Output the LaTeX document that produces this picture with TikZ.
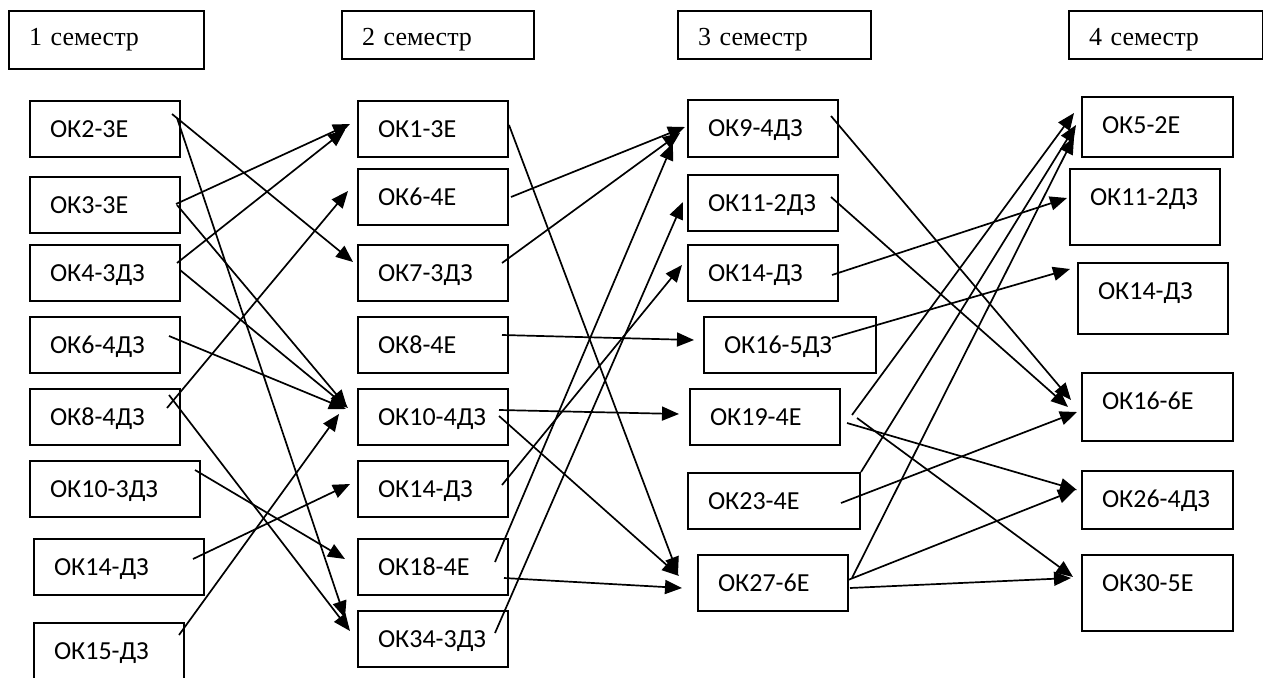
\documentclass[tikz,border=0pt]{standalone}
\usepackage{fontspec}
\setmainfont{Liberation Serif}
\newfontfamily\calib{Carlito}
\usetikzlibrary{arrows.meta}

\begin{document}
\begin{tikzpicture}[x=1pt,y=-1pt,line width=1.7pt,
      >={Triangle[length=17pt,width=14pt]},
      okbox/.style 2 args={draw,line width=2pt,anchor=north west,
        inner xsep=20pt,inner ysep=0pt,text width=#1pt-40pt,align=left,
        text height=36pt,text depth=#2pt-36pt,
        font=\calib\fontsize{26}{31}\selectfont},
      semhead/.style 2 args={okbox={#1}{#2},text height=35pt,
        text depth=#2pt-35pt,font=\fontsize{26}{31}\selectfont}]
      \path[use as bounding box,clip](0,0)rectangle(1263,677);
      % semesters
      \node[semhead={195}{58}](sem1) at (8,10){1 семестр};
      \node[semhead={192}{48}](sem2) at (341,10){2 семестр};
      \node[semhead={193}{48}](sem3) at (677,10){3 семестр};
      \node[semhead={194}{48}](sem4) at (1068,10){4 семестр};
      % 1 semester
      \node[okbox={150}{56}](s1ok2) at (29,100){ОК2-3Е};
      \node[okbox={150}{56}](s1ok3) at (29,176){ОК3-3Е};
      \node[okbox={150}{56}](s1ok4) at (29,244){ОК4-3ДЗ};
      \node[okbox={150}{56}](s1ok6) at (29,316){ОК6-4ДЗ};
      \node[okbox={150}{56}](s1ok8) at (29,388){ОК8-4ДЗ};
      \node[okbox={170}{56}](s1ok10) at (29,460){ОК10-3ДЗ};
      \node[okbox={170}{56}](s1ok14) at (33,538){ОК14-ДЗ};
      \node[okbox={150}{70}](s1ok15) at (33,622){ОК15-ДЗ};
      % 2 semester
      \node[okbox={150}{56}](s2ok1) at (357,100){ОК1-3Е};
      \node[okbox={150}{56}](s2ok6) at (357,168){ОК6-4Е};
      \node[okbox={150}{56}](s2ok7) at (357,244){ОК7-3ДЗ};
      \node[okbox={150}{56}](s2ok8) at (357,316){ОК8-4Е};
      \node[okbox={150}{56}](s2ok10) at (357,388){ОК10-4ДЗ};
      \node[okbox={150}{56}](s2ok14) at (357,460){ОК14-ДЗ};
      \node[okbox={150}{56}](s2ok18) at (357,538){ОК18-4Е};
      \node[okbox={150}{56}](s2ok34) at (357,610){ОК34-3ДЗ};
      % 3 semester
      \node[okbox={150}{57}](s3ok9) at (687,99){ОК9-4ДЗ};
      \node[okbox={150}{56}](s3ok11) at (687,174){ОК11-2ДЗ};
      \node[okbox={150}{56}](s3ok14) at (687,244){ОК14-ДЗ};
      \node[okbox={172}{56}](s3ok16) at (703,316){ОК16-5ДЗ};
      \node[okbox={150}{56}](s3ok19) at (689,388){ОК19-4Е};
      \node[okbox={172}{56}](s3ok23) at (687,472){ОК23-4Е};
      \node[okbox={150}{56}](s3ok27) at (697,554){ОК27-6Е};
      % 4 semester
      \node[okbox={151}{60}](s4ok5) at (1081,96){ОК5-2Е};
      \node[okbox={150}{76}](s4ok11) at (1069,168){ОК11-2ДЗ};
      \node[okbox={150}{71}](s4ok14) at (1077,262){ОК14-ДЗ};
      \node[okbox={151}{68}](s4ok16) at (1081,372){ОК16-6Е};
      \node[okbox={151}{58}](s4ok26) at (1081,470){ОК26-4ДЗ};
      \node[okbox={151}{76}](s4ok30) at (1081,554){ОК30-5Е};
      % 1 -> 2
      \draw[->]([shift={(-9,14)}]s1ok2.north east)--([shift={(-4,18)}]s2ok7.north west);
      \draw[->]([shift={(-4,18)}]s1ok2.north east)--([shift={(-12,8)}]s2ok34.north west);
      \draw[->]([shift={(-5,28)}]s1ok3.north east)--([shift={(-7,24)}]s2ok1.north west);
      \draw[->]([shift={(-4,29)}]s1ok3.north east)--([shift={(-10,19)}]s2ok10.north west);
      \draw[->]([shift={(-4,19)}]s1ok4.north east)--([shift={(-12,30)}]s2ok1.north west);
      \draw[->]([shift={(-1,26)}]s1ok4.north east)--([shift={(-9,20)}]s2ok10.north west);
      \draw[->]([shift={(-12,20)}]s1ok6.north east)--([shift={(-11,21)}]s2ok10.north west);
      \draw[->]([shift={(-14,20)}]s1ok8.north east)--([shift={(-9,23)}]s2ok6.north west);
      \draw[->]([shift={(-12,7)}]s1ok8.north east)--([shift={(-7,21)}]s2ok34.north west);
      \draw[->]([shift={(-6,10)}]s1ok10.north east)--([shift={(-12,21)}]s2ok18.north west);
      \draw[->]([shift={(-12,21)}]s1ok14.north east)--([shift={(-7,24)}]s2ok14.north west);
      \draw[->]([shift={(-6,13)}]s1ok15.north east)--([shift={(-18,26)}]s2ok10.north west);
      % 2 -> 3
      \draw[->]([shift={(0,25)}]s2ok1.north east)--([shift={(-19,20)}]s3ok27.north west);
      \draw[->]([shift={(2,29)}]s2ok6.north east)--([shift={(-2,28)}]s3ok9.north west);
      \draw[->]([shift={(-7,19)}]s2ok7.north east)--([shift={(-7,34)}]s3ok9.north west);
      \draw[->]([shift={(-7,19)}]s2ok8.north east)--([shift={(-9,24)}]s3ok16.north west);
      \draw[->]([shift={(-10,22)}]s2ok10.north east)--([shift={(-10,26)}]s3ok19.north west);
      \draw[->]([shift={(-10,28)}]s2ok10.north east)--([shift={(-18,22)}]s3ok27.north west);
      \draw[->]([shift={(-7,25)}]s2ok14.north east)--([shift={(-5,21)}]s3ok14.north west);
      \draw[->]([shift={(-14,24)}]s2ok18.north east)--([shift={(-14,44)}]s3ok9.north west);
      \draw[->]([shift={(-5,40)}]s2ok18.north east)--([shift={(-15,34)}]s3ok27.north west);
      \draw[->]([shift={(-14,23)}]s2ok34.north east)--([shift={(-4,28)}]s3ok11.north west);
      % 3 -> 4
      \draw[->]([shift={(-8,17)}]s3ok9.north east)--([shift={(-10,28)}]s4ok16.north west);
      \draw[->]([shift={(-8,23)}]s3ok11.north east)--([shift={(-13,35)}]s4ok16.north west);
      \draw[->]([shift={(-7,31)}]s3ok14.north east)--([shift={(-2,30)}]s4ok11.north west);
      \draw[->]([shift={(-45,22)}]s3ok16.north east)--([shift={(-7,7)}]s4ok14.north west);
      \draw[->]([shift={(11,27)}]s3ok19.north east)--([shift={(-7,17)}]s4ok5.north west);
      \draw[->]([shift={(6,35)}]s3ok19.north east)--([shift={(-4,20)}]s4ok26.north west);
      \draw[->]([shift={(16,30)}]s3ok19.north east)--([shift={(-8,23)}]s4ok30.north west);
      \draw[->]([shift={(-20,31)}]s3ok23.north east)--([shift={(-4,40)}]s4ok16.north west);
      \draw[->](s3ok23.north east)--([shift={(-5,29)}]s4ok5.north west);
      \draw[->]([shift={(3,24)}]s3ok27.north east)--([shift={(-7,41)}]s4ok5.north west);
      \draw[->]([shift={(-1,26)}]s3ok27.north east)--([shift={(-6,20)}]s4ok26.north west);
      \draw[->]([shift={(1,34)}]s3ok27.north east)--([shift={(-10,24)}]s4ok30.north west);
    \end{tikzpicture}
\end{document}
